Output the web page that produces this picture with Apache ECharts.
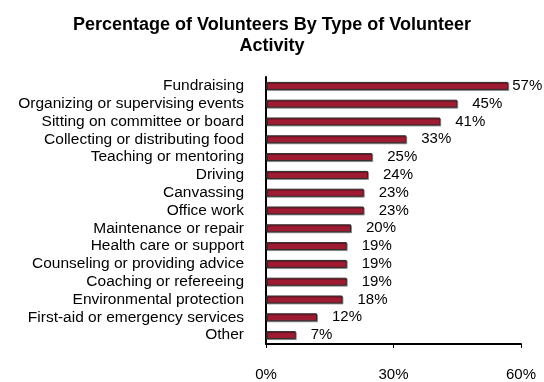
<!DOCTYPE html>
<html>
<head>
<meta charset="utf-8">
<script src="https://cdn.jsdelivr.net/npm/echarts@6/dist/echarts.min.js"></script>
<style>
  html, body { margin: 0; padding: 0; background: #fff; }
  #chart { width: 544px; height: 382px; }
</style>
</head>
<body>
<div id="chart"></div>
<script>
// Volunteer activity categories, top to bottom
const activities = [
  'Fundraising',
  'Organizing or supervising events',
  'Sitting on committee or board',
  'Collecting or distributing food',
  'Teaching or mentoring',
  'Driving',
  'Canvassing',
  'Office work',
  'Maintenance or repair',
  'Health care or support',
  'Counseling or providing advice',
  'Coaching or refereeing',
  'Environmental protection',
  'First-aid or emergency services',
  'Other'
];

// Share of volunteers doing each activity (%)
const percentages = [57, 45, 41, 33, 25, 24, 23, 23, 20, 19, 19, 19, 18, 12, 7];

// Horizontal axis ticks (%)
const axisTicks = [0, 30, 60];

const FONT = "'Liberation Sans', Arial, sans-serif";

const chart = echarts.init(document.getElementById('chart'), null, { renderer: 'canvas' });

chart.setOption({
  animation: false,
  backgroundColor: '#ffffff',
  title: {
    text: 'Percentage of Volunteers By Type of Volunteer\nActivity',
    left: 'center',
    top: 10,
    textStyle: {
      fontFamily: FONT,
      fontSize: 18,
      fontWeight: 'bold',
      color: '#000',
      lineHeight: 21
    }
  },
  grid: { left: 266, right: 23, top: 77, bottom: 36, containLabel: false },
  xAxis: {
    type: 'value',
    min: axisTicks[0],
    max: axisTicks[axisTicks.length - 1],
    interval: axisTicks[1] - axisTicks[0],
    axisLine: { show: true, lineStyle: { color: '#000', width: 2 } },
    axisTick: { show: true, length: 4, lineStyle: { color: '#000', width: 1 } },
    splitLine: { show: false },
    axisLabel: {
      margin: 23,
      fontFamily: FONT,
      fontSize: 15,
      color: '#000',
      formatter: v => v + '%'
    }
  },
  yAxis: {
    type: 'category',
    data: activities,
    inverse: true,
    axisLine: { show: true, lineStyle: { color: '#000', width: 2 } },
    axisTick: { show: false },
    axisLabel: {
      interval: 0,
      margin: 22,
      fontFamily: FONT,
      fontSize: 15.5,
      color: '#000'
    }
  },
  series: [{
    type: 'bar',
    barWidth: 8,
    data: percentages.map((v, i) => i === 0 ? { value: v, label: { distance: 4 } } : v),
    itemStyle: {
      color: '#9e1b32',
      borderColor: '#2a2a2a',
      borderWidth: 1,
      shadowColor: 'rgba(0,0,0,0.35)',
      shadowOffsetX: 1,
      shadowOffsetY: 1,
      shadowBlur: 0
    },
    label: {
      show: true,
      position: 'right',
      distance: 15,
      fontFamily: FONT,
      fontSize: 15,
      color: '#000',
      formatter: p => p.value + '%'
    }
  }]
});
</script>
</body>
</html>
